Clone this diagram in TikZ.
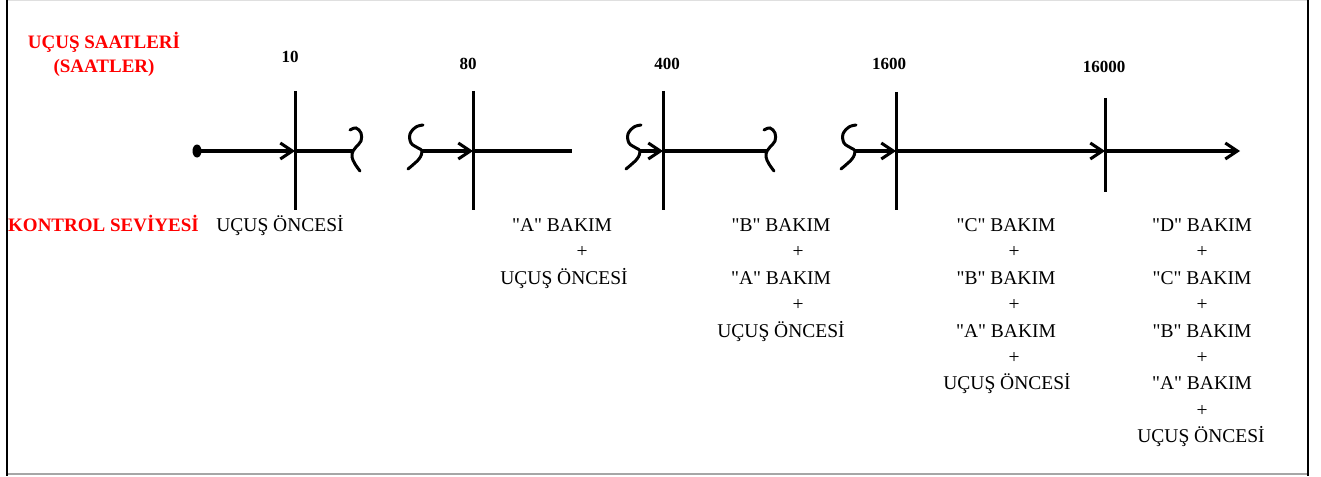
\documentclass[tikz,border=0pt]{standalone}
\usepackage{fontspec}
\setmainfont{Liberation Serif}[Ligatures=TeXOff]
\usetikzlibrary{arrows.meta,calc}
\begin{document}
\begin{tikzpicture}[x=1pt,y=-1pt,
  axisln/.style={line width=3.2pt},
  arr/.style={axisln,-{Straight Barb[length=12pt,width=16pt,line width=3pt]}},
  brk/.style={line width=3pt,line cap=round},
  tick/.style={line width=3pt},
  lbl/.style={font=\fontsize{19.5}{19.5}\selectfont,inner sep=0pt,anchor=base},
  redlbl/.style={font=\bfseries\fontsize{19}{19}\selectfont,text=red,inner sep=0pt,anchor=base},
  num/.style={font=\bfseries\fontsize{17}{17}\selectfont,inner sep=0pt,anchor=base},
]
\useasboundingbox (0,0) rectangle (1321,476);
% frame
\draw[gray!25,line width=1pt] (7,1) -- (1308,1);
\draw[gray!70,line width=1.5pt] (7,474) -- (1308,474);
\draw[black,line width=2.8pt] (7,0) -- (7,476);
\draw[black,line width=2.8pt] (1308,0) -- (1308,476);

% headers
\node[redlbl] (hdr1) at (104,49) {UÇUŞ SAATLERİ};
\node[redlbl] (hdr2) at (104,73) {(SAATLER)};
\node[redlbl,anchor=base west] (kont) at (8,231.5) {KONTROL SEVİYESİ};

% hour numbers
\node[num] (n10) at (290,63) {10};
\node[num] (n80) at (468,70) {80};
\node[num] (n400) at (667,70) {400};
\node[num] (n1600) at (889,70) {1600};
\node[num] (n16000) at (1104,73) {16000};

% axis coordinates
\coordinate (s0) at (197,151);
\coordinate (t1) at (295,151);
\coordinate (r1) at (353,151);
\coordinate (l2) at (422,151);
\coordinate (t2) at (473,151);
\coordinate (e2) at (572,151);
\coordinate (l3) at (640,151);
\coordinate (t3) at (663,151);
\coordinate (r3) at (767,151);
\coordinate (l4) at (855,151);
\coordinate (t4) at (896,151);
\coordinate (t5) at (1105,151);
\coordinate (end) at (1240,151);

% ticks
\draw[tick] ($(t1)+(0,-60)$) -- ($(t1)+(0,59)$);
\draw[tick] ($(t2)+(0,-60)$) -- ($(t2)+(0,59)$);
\draw[tick] ($(t3)+(0,-60)$) -- ($(t3)+(0,59)$);
\draw[tick] ($(t4)+(0,-59)$) -- ($(t4)+(0,59)$);
\draw[tick] ($(t5)+(0,-53)$) -- ($(t5)+(0,41)$);

% start dot
\fill (s0) ellipse [x radius=4.5pt, y radius=6.5pt];

% axis segments
\draw[arr] (s0) -- (t1);
\draw[axisln] (t1) -- (r1);
\draw[arr] (l2) -- (t2);
\draw[axisln] (t2) -- (e2);
\draw[arr] (l3) -- (t3);
\draw[axisln] (t3) -- (r3);
\draw[arr] (l4) -- (t4);
\draw[arr] (t4) -- (t5);
\draw[arr] (t5) -- (end);

% break marks
\foreach \j in {r1,r3}{
  \draw[brk,shift={(\j)}] plot[smooth,tension=0.6] coordinates
    {(-3,-21) (3,-23) (8,-18) (8,-10) (3,-4) (0,0) (-1,6) (2,13) (7,20)};
}
\foreach \j in {l2,l3,l4}{
  \draw[brk,shift={(\j)}] plot[smooth,tension=0.6] coordinates
    {(1,-26) (-6,-24) (-12,-17) (-11,-8) (-4,-3) (0,0) (-3,8) (-14,18)};
}

% column 1
\node[lbl] (c1a) at (280,231.5) {UÇUŞ ÖNCESİ};

% column A
\node[lbl] (ca1) at (562,231.5) {"A" BAKIM};
\node[lbl] (ca2) at (582,257.9) {+};
\node[lbl] (ca3) at (564,284.3) {UÇUŞ ÖNCESİ};

% column B
\node[lbl] (cb1) at (781,231.5) {"B" BAKIM};
\node[lbl] (cb2) at (798,257.9) {+};
\node[lbl] (cb3) at (781,284.3) {"A" BAKIM};
\node[lbl] (cb4) at (798,310.7) {+};
\node[lbl] (cb5) at (781,337.1) {UÇUŞ ÖNCESİ};

% column C
\node[lbl] (cc1) at (1006,231.5) {"C" BAKIM};
\node[lbl] (cc2) at (1014,257.9) {+};
\node[lbl] (cc3) at (1006,284.3) {"B" BAKIM};
\node[lbl] (cc4) at (1014,310.7) {+};
\node[lbl] (cc5) at (1006,337.1) {"A" BAKIM};
\node[lbl] (cc6) at (1014,363.5) {+};
\node[lbl] (cc7) at (1007,389.9) {UÇUŞ ÖNCESİ};

% column D
\node[lbl] (cd1) at (1202,231.5) {"D" BAKIM};
\node[lbl] (cd2) at (1202,257.9) {+};
\node[lbl] (cd3) at (1202,284.3) {"C" BAKIM};
\node[lbl] (cd4) at (1202,310.7) {+};
\node[lbl] (cd5) at (1202,337.1) {"B" BAKIM};
\node[lbl] (cd6) at (1202,363.5) {+};
\node[lbl] (cd7) at (1202,389.9) {"A" BAKIM};
\node[lbl] (cd8) at (1202,416.3) {+};
\node[lbl] (cd9) at (1201,442.7) {UÇUŞ ÖNCESİ};
\end{tikzpicture}
\end{document}
